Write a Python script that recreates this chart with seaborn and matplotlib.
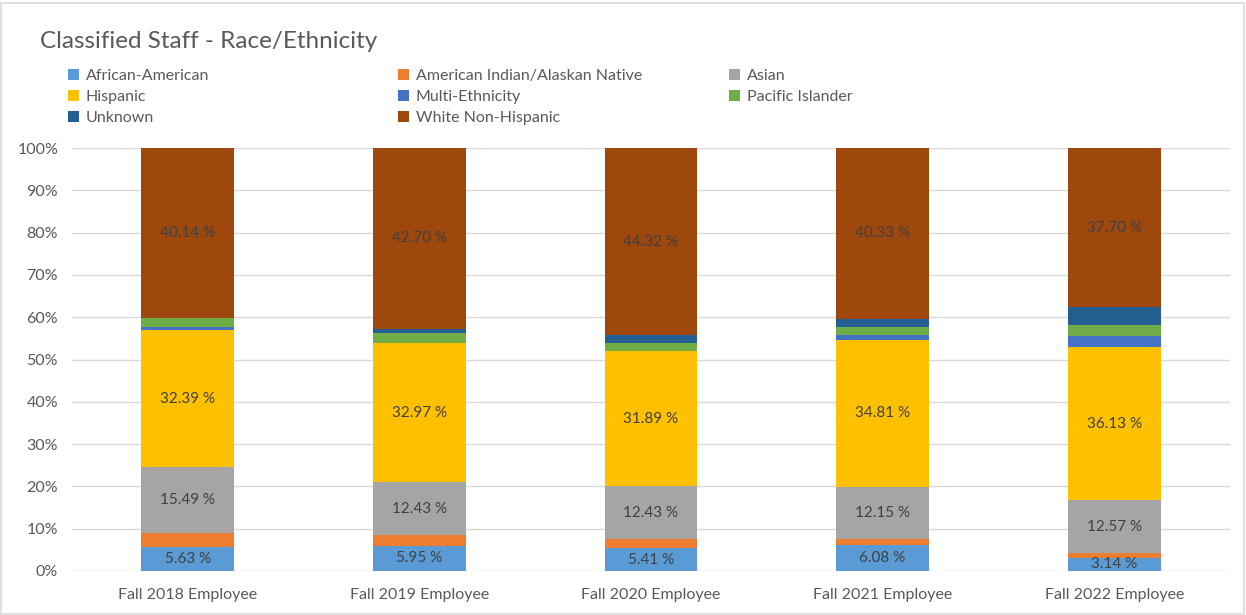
import matplotlib
matplotlib.use("Agg")
import matplotlib.pyplot as plt
from matplotlib.patches import Patch, Rectangle
import seaborn as sns
import numpy as np

years = ["Fall 2018 Employee", "Fall 2019 Employee", "Fall 2020 Employee",
         "Fall 2021 Employee", "Fall 2022 Employee"]

african_american = [5.63, 5.95, 5.41, 6.08, 3.14]
american_indian = [3.40, 2.60, 2.20, 1.60, 1.00]
asian = [15.49, 12.43, 12.43, 12.15, 12.57]
hispanic = [32.39, 32.97, 31.89, 34.81, 36.13]
multi_ethnicity = [0.75, 0.00, 0.00, 1.05, 2.60]
pacific_islander = [2.20, 2.20, 1.90, 2.10, 2.70]
unknown = [0.00, 1.15, 1.85, 1.88, 4.16]
white_non_hispanic = [40.14, 42.70, 44.32, 40.33, 37.70]

groups = ["African-American", "American Indian/Alaskan Native", "Asian", "Hispanic",
          "Multi-Ethnicity", "Pacific Islander", "Unknown", "White Non-Hispanic"]
series = [african_american, american_indian, asian, hispanic,
          multi_ethnicity, pacific_islander, unknown, white_non_hispanic]
colors = ["#5B9BD5", "#ED7D31", "#A5A5A5", "#FFC000",
          "#4472C4", "#70AD47", "#255E91", "#9E480E"]
labelled = {"African-American", "Asian", "Hispanic", "White Non-Hispanic"}

sns.set_theme(style="white")
plt.rcParams["font.family"] = ["Lato", "DejaVu Sans"]

text_color = "#595959"
fig = plt.figure(figsize=(12.46, 6.15), dpi=100)
ax = fig.add_axes([72 / 1246, 1 - 571 / 615, 1158 / 1246, 423 / 615])

bottom = np.zeros(len(years))
for name, vals, col in zip(groups, series, colors):
    v = np.array(vals) / 100.0
    sns.barplot(x=years, y=v, bottom=bottom, color=col, width=0.4,
                saturation=1, linewidth=0, ax=ax, zorder=3)
    if name in labelled:
        for i, (b, h) in enumerate(zip(bottom, v)):
            ax.text(i, b + h / 2, f"{vals[i]:.2f} %", ha="center", va="center",
                    fontsize=11, color="#404040", zorder=4)
    bottom = bottom + v

ax.set_ylim(0, 1)
ax.set_xlim(-0.5, len(years) - 0.5)
ax.set_yticks(np.arange(0, 1.01, 0.1))
ax.set_yticklabels([f"{int(round(t * 100))}%" for t in np.arange(0, 1.01, 0.1)])
ax.grid(axis="y", color="#D9D9D9", linewidth=1, zorder=0)
ax.set_axisbelow(True)
for s in ax.spines.values():
    s.set_visible(False)
ax.tick_params(axis="both", length=0, labelsize=11.5, colors=text_color)
ax.tick_params(axis="y", pad=10)
ax.tick_params(axis="x", pad=12)
ax.set_xlabel("")
ax.set_ylabel("")

fig.text(40 / 1246, 1 - 41 / 615, "Classified Staff - Race/Ethnicity",
         fontsize=17.5, color=text_color, ha="left", va="center")

# legend laid out in three fixed-width columns
columns = [[0, 3, 6], [1, 4, 7], [2, 5]]
col_x = [68, 398, 729]
for cx, idxs in zip(col_x, columns):
    handles = [Patch(facecolor=colors[i], edgecolor="none") for i in idxs]
    leg = fig.legend(handles, [groups[i] for i in idxs], loc="upper left",
                     bbox_to_anchor=(cx / 1246, 1 - 69 / 615), frameon=False,
                     fontsize=11.5, handlelength=0.7, handleheight=0.7,
                     handletextpad=0.4, labelspacing=0.43, borderpad=0,
                     borderaxespad=0)
    for t in leg.get_texts():
        t.set_color(text_color)

fig.patches.append(Rectangle((1 / 1246, 1 / 615), 1243 / 1246, 611 / 615,
                             transform=fig.transFigure, fill=False,
                             edgecolor="#D9D9D9", linewidth=1.2))

fig.savefig("out.png", dpi=100, facecolor="white")
